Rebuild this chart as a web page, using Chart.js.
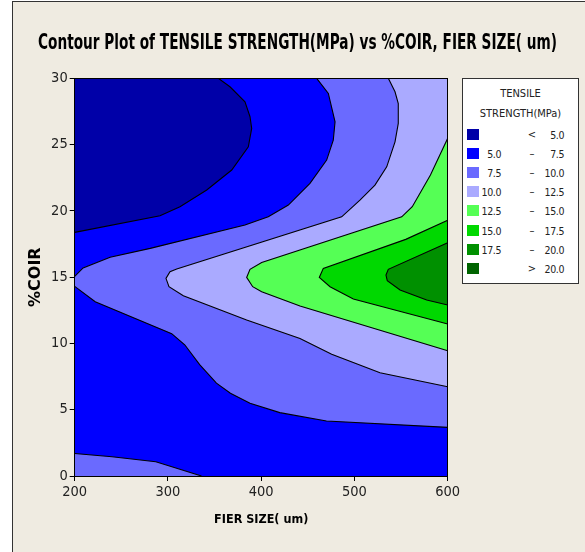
<!DOCTYPE html>
<html>
<head>
<meta charset="utf-8">
<script src="https://cdn.jsdelivr.net/npm/chart.js@4"></script>
<style>
  html, body { margin: 0; padding: 0; background: #ffffff; }
  body { width: 585px; height: 552px; position: relative; overflow: hidden; }
  #panel { position: absolute; left: 12px; top: 1px; width: 573px; height: 551px;
           background: #EFEBE1; border-left: 1px solid #333; border-top: 1px solid #333; box-sizing: border-box; }
  #wrap { position: absolute; left: 0; top: 0; width: 585px; height: 552px; }
  #legend { position: absolute; left: 462px; top: 78px; width: 117px; height: 206px;
            background: #ffffff; border: 1px solid #333; box-sizing: border-box;
            font-family: 'DejaVu Sans Condensed', 'Liberation Sans Narrow', sans-serif; font-size: 11px; color: #222; }
  #legend .ttl { position: absolute; left: 0; width: 100%; text-align: center; line-height: 14px; }
  #legend .row { position: absolute; left: 0; width: 100%; height: 14px; line-height: 14px; }
  #legend .sw { position: absolute; left: 4px; top: 1px; width: 12px; height: 11px; }
  #legend .a { position: absolute; right: 77px; text-align: right; letter-spacing: -0.4px; font-size: 10.5px; }
  #legend .s { position: absolute; left: 64px; width: 10px; text-align: center; }
  #legend .b { position: absolute; right: 14px; text-align: right; letter-spacing: -0.4px; font-size: 10.5px; }
</style>
</head>
<body>
<div id="panel"></div>
<div id="wrap"><canvas id="c" width="585" height="552"></canvas></div>
<div id="legend"></div>
<script>
// ---- data (x = FIER SIZE, y = %COIR) ----
const xTicks = [200, 300, 400, 500, 600];
const yTicks = [0, 5, 10, 15, 20, 25, 30];
const levels = [5.0, 7.5, 10.0, 12.5, 15.0, 17.5, 20.0];
const bandColors = ['#0000A8', '#0000FF', '#6A6AFF', '#AAAAFF', '#55FF55', '#00D800', '#009000', '#006400'];

// contour lines
const c5 = [[200,18.38],[291.5,19.63],[312.9,20.31],[341.6,21.57],[368.4,23.08],[386.2,24.83],[389.8,26.22],[388,27.1],[382.6,28.23],[366.5,29.36],[354,30]];
const c75upper = [[200,15.05],[209,15.7],[238,16.5],[281,17.17],[382.6,18.93],[407.6,19.55],[429.1,20.44],[452.3,22.07],[470.2,23.83],[477.3,25.34],[479.2,26.72],[472,28.86],[459.5,30]];
const c75lower = [[200,14.3],[222,13.15],[304,10.74],[318,9.9],[334,8.4],[352,7.0],[367,6.24],[388,5.48],[420,4.78],[470,4.15],[600,3.67]];
const c75corner = [[200,1.7],[240,1.45],[287,1.07],[336,0]];
const c10 = [[536.3,30],[543.5,28.98],[547,28.1],[547,26.6],[543.5,25.21],[534.6,23.32],[522,21.94],[505.9,20.81],[486.3,19.55],[309.4,15.61],[302.2,15.41],[297.9,14.91],[301.1,14.28],[316.5,13.6],[384.4,11.76],[441.6,10.38],[475.6,9.18],[527.4,7.79],[600,6.73]];
const c125 = [[600,25.47],[581.5,22.7],[562,20.31],[550.7,19.55],[400.5,16.11],[388,15.59],[384.4,14.98],[390.9,14.28],[400.5,13.9],[441.6,12.82],[600,9.45]];
const c15 = [[600,19.3],[555,17.85],[466.6,15.66],[462.3,14.98],[473.8,14.28],[498.8,13.35],[600,11.46]];
const c175 = [[600,17.59],[536.3,15.59],[533.8,15.16],[535.2,14.73],[548.9,14.03],[577.5,13.27],[600,12.9]];

// ---- build layers (bottom to top) ----
const X0 = xTicks[0], X1 = xTicks[xTicks.length - 1];
const Y0 = yTicks[0], Y1 = yTicks[yTicks.length - 1];
const pts = a => a.map(p => ({x: p[0], y: p[1]}));
const close = a => a.concat([a[0]]);

const regions = [
  { color: bandColors[1], poly: [[X0,Y0],[X1,Y0],[X1,Y1],[X0,Y1]] },
  { color: bandColors[2], poly: c75upper.concat([[X1,Y1],[X1, c75lower[c75lower.length-1][1]]], c75lower.slice().reverse()) },
  { color: bandColors[2], poly: c75corner.concat([[X0,Y0]]) },
  { color: bandColors[3], poly: c10.concat([[X1,Y1]]) },
  { color: bandColors[4], poly: c125.slice() },
  { color: bandColors[5], poly: c15.slice() },
  { color: bandColors[6], poly: c175.slice() },
  { color: bandColors[0], poly: c5.concat([[X0,Y1]]) }
];
const lines = [c5, c75upper, c75lower, c75corner, c10, c125, c15, c175];

const layers = [];
regions.forEach(r => layers.push({
  data: pts(close(r.poly)), showLine: true, fill: 'shape', backgroundColor: r.color,
  borderWidth: 0, borderColor: 'rgba(0,0,0,0)', pointRadius: 0, tension: 0
}));
lines.forEach(l => layers.push({
  data: pts(l), showLine: true, fill: false, borderColor: '#000', borderWidth: 1.1,
  pointRadius: 0, tension: 0, clip: 0
}));
const datasets = layers.map((d, i) => Object.assign(d, { order: layers.length - i }));

const COND = "'DejaVu Sans Condensed', sans-serif";
const NARROW = "'Liberation Sans Narrow', 'DejaVu Sans Condensed', sans-serif";

new Chart(document.getElementById('c'), {
  type: 'scatter',
  data: { datasets },
  options: {
    responsive: false, animation: false, events: [],
    layout: { padding: { left: 38, top: 31.4, right: 28, bottom: 20 } },
    plugins: {
      legend: { display: false }, tooltip: { enabled: false },
      title: { display: true, text: 'Contour Plot of TENSILE STRENGTH(MPa) vs %COIR, FIER SIZE( um)',
               color: '#000', font: { family: COND, size: 21, weight: 'bold' },
               padding: { top: 0, bottom: 21.7 } }
    },
    scales: {
      x: { type: 'linear', position: 'bottom', min: X0, max: X1,
           afterBuildTicks: s => { s.ticks = xTicks.map(v => ({ value: v })); },
           ticks: { color: '#222', font: { family: NARROW, size: 14.5 }, padding: 3, maxRotation: 0 },
           grid: { drawOnChartArea: false, drawTicks: true, tickLength: 5, color: '#000' },
           border: { color: '#000', width: 1, z: 1 },
           title: { display: true, text: 'FIER SIZE( um)', color: '#000',
                    font: { family: COND, size: 12.5, weight: 'bold' }, padding: { top: 0, bottom: 4.5 } },
           afterFit: s => { s.height = 56; } },
      y: { type: 'linear', position: 'left', min: Y0, max: Y1,
           afterBuildTicks: s => { s.ticks = yTicks.map(v => ({ value: v })); },
           ticks: { color: '#222', font: { family: NARROW, size: 14.5 }, padding: 2 },
           grid: { drawOnChartArea: false, drawTicks: true, tickLength: 5, color: '#000' },
           border: { color: '#000', width: 1, z: 1 },
           title: { display: true, text: '%COIR', color: '#000',
                    font: { family: 'DejaVu Sans', size: 16, weight: 'bold' }, padding: { top: -11.6, bottom: 0 } },
           afterFit: s => { s.width = 36.7; } },
      x2: { type: 'linear', position: 'top', min: X0, max: X1,
            ticks: { display: false }, grid: { display: true, drawOnChartArea: false, drawTicks: false },
            border: { color: '#000', width: 1, z: 1 }, afterFit: s => { s.height = 0; } },
      y2: { type: 'linear', position: 'right', min: Y0, max: Y1,
            ticks: { display: false }, grid: { display: true, drawOnChartArea: false, drawTicks: false },
            border: { color: '#000', width: 1, z: 1 }, afterFit: s => { s.width = 109.3; } }
    }
  }
});

// ---- legend (HTML text) ----
const lg = document.getElementById('legend');
const legendTitle = ['TENSILE', 'STRENGTH(MPa)'];
legendTitle.forEach((t, i) => {
  const d = document.createElement('div'); d.className = 'ttl'; d.textContent = t;
  d.style.top = (8 + i * 20) + 'px'; lg.appendChild(d);
});
const fmt = v => v.toFixed(1);
bandColors.forEach((col, i) => {
  let a = '', s = '', b = '';
  if (i === 0) { s = '<'; b = fmt(levels[0]); }
  else if (i === bandColors.length - 1) { s = '>'; b = fmt(levels[levels.length - 1]); }
  else { a = fmt(levels[i - 1]); s = '\u2013'; b = fmt(levels[i]); }
  const r = document.createElement('div'); r.className = 'row';
  r.style.top = (48.5 + i * 19.2) + 'px';
  r.innerHTML = '<span class="sw"></span><span class="a"></span><span class="s"></span><span class="b"></span>';
  r.children[0].style.background = col;
  r.children[1].textContent = a; r.children[2].textContent = s; r.children[3].textContent = b;
  lg.appendChild(r);
});
</script>
</body>
</html>
